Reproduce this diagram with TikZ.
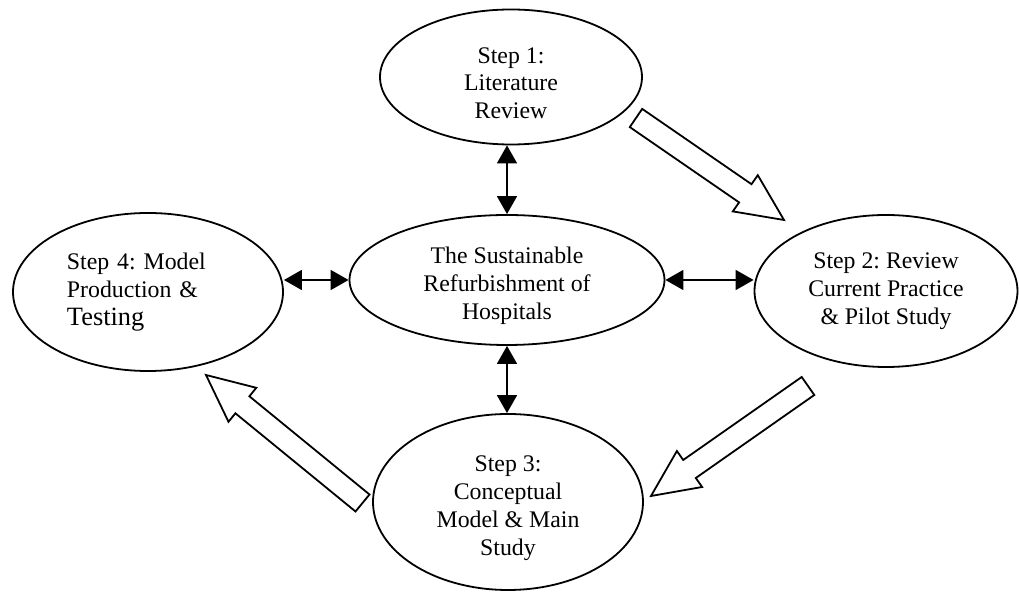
\documentclass[tikz,border=0pt]{standalone}
\usepackage{fontspec}
\setmainfont{Liberation Serif}
\frenchspacing
\usetikzlibrary{shapes.geometric,arrows.meta}
\newcommand\lowerstrut{\rule{0pt}{14pt}}
\tikzset{
  stepell/.style={ellipse, draw, line width=0.9pt, inner sep=0pt, align=center,
    font=\fontsize{11.9pt}{13.9pt}\selectfont},
  dbl/.style={line width=0.8pt, {Triangle[length=9pt,width=10pt]}-{Triangle[length=9pt,width=10pt]}},
  blockarrow/.style={draw, line width=0.9pt, fill=white, line join=miter}
}
\begin{document}
\begin{tikzpicture}[x=0.5pt,y=-0.5pt]
\useasboundingbox (0,0) rectangle (1019,592);
% nodes
\node[stepell, minimum width=131pt, minimum height=67.5pt] (s1) at (511,77) {\lowerstrut Step 1:\\Literature\\Review};
\node[stepell, minimum width=157.5pt, minimum height=65pt] (c) at (507,280) {\lowerstrut The Sustainable\\Refurbishment of\\Hospitals};
\node[stepell, minimum width=131.5pt, minimum height=76pt] (s2) at (886,291) {Step 2: Review\\Current Practice\\\& Pilot Study};
\node[stepell, minimum width=135pt, minimum height=88pt] (s3) at (508,502) {\lowerstrut Step 3:\\Conceptual\\Model \& Main\\Study};
\node[stepell, minimum width=135pt, minimum height=79pt, text width=81pt, align=left] (s4) at (148,292) {Step 4: Model\\Production \&\\{\fontsize{13.2pt}{13.9pt}\selectfont Testing}};
% double arrows
\draw[dbl] (c.north) -- (c.north |- s1.south);
\draw[dbl] (c.south) -- (c.south |- s3.north);
\draw[dbl] (c.west) -- (c.west -| s4.east);
\draw[dbl] (c.east) -- (c.east -| s2.west);
% block arrows
\draw[blockarrow] (629.8,127.1) -- (739.1,202.4) -- (732.8,211.4) -- (784,220) -- (757.8,175.2) -- (751.5,184.2) -- (642.2,108.9) -- cycle;
\draw[blockarrow] (801.7,377.0) -- (683.2,460.0) -- (676.9,451.0) -- (651,496) -- (702.1,487.0) -- (695.8,478.0) -- (814.3,395.0) -- cycle;
\draw[blockarrow] (369.5,494.5) -- (249.4,396.3) -- (256.3,387.8) -- (206,375) -- (228.5,421.8) -- (235.4,413.3) -- (355.5,511.5) -- cycle;
\end{tikzpicture}
\end{document}
